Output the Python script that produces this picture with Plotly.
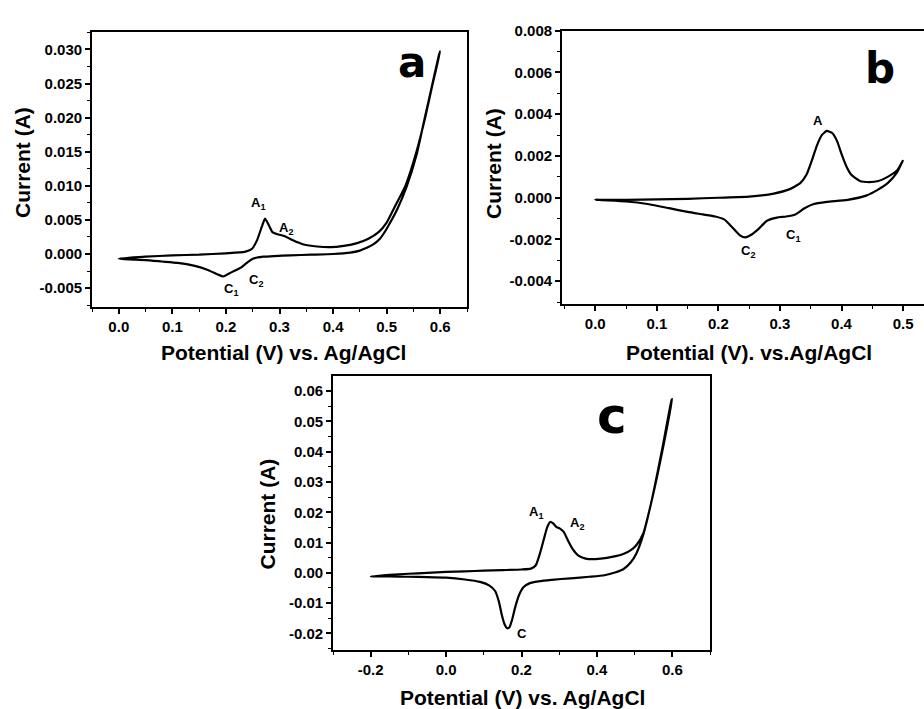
import plotly.graph_objects as go

# ---------------- Panel a data ----------------
a_fwd_x = [0.0, 0.05, 0.10, 0.15, 0.20, 0.235, 0.248, 0.258, 0.267, 0.273, 0.279, 0.287, 0.296,
           0.31, 0.325, 0.345, 0.37, 0.395, 0.42, 0.445, 0.465, 0.485, 0.50, 0.515, 0.535,
           0.555, 0.572, 0.586, 0.600]
a_fwd_y = [-0.0007, -0.0004, -0.0002, -0.0001, 0.0001, 0.0003, 0.0007, 0.0020, 0.0040, 0.0052,
           0.0044, 0.0032, 0.0029, 0.0026, 0.0020, 0.0014, 0.0011, 0.0010, 0.0012, 0.0016,
           0.0022, 0.0032, 0.0046, 0.0069, 0.0100, 0.0148, 0.0200, 0.0250, 0.0297]
a_rev_x = [0.598, 0.585, 0.571, 0.556, 0.537, 0.52, 0.508, 0.497, 0.487, 0.475, 0.463, 0.45,
           0.432, 0.40, 0.36, 0.32, 0.29, 0.27, 0.25, 0.239, 0.228, 0.215, 0.205, 0.195, 0.185,
           0.165, 0.14, 0.11, 0.08, 0.05, 0.02, 0.0]
a_rev_y = [0.0293, 0.0248, 0.0199, 0.0146, 0.0098, 0.0066, 0.0048, 0.0033, 0.0022, 0.0014,
           0.0009, 0.0005, 0.0002, 0.0000, -0.0001, -0.0002, -0.0003, -0.0004, -0.0007, -0.0013,
           -0.0020, -0.0025, -0.0029, -0.0033, -0.0030, -0.0023, -0.0017, -0.0013, -0.0011,
           -0.0009, -0.0008, -0.0007]
a_xticks = [0.0, 0.1, 0.2, 0.3, 0.4, 0.5, 0.6]
a_xtick_text = ["0.0", "0.1", "0.2", "0.3", "0.4", "0.5", "0.6"]
a_yticks = [-0.005, 0.0, 0.005, 0.010, 0.015, 0.020, 0.025, 0.030]
a_ytick_text = ["-0.005", "0.000", "0.005", "0.010", "0.015", "0.020", "0.025", "0.030"]

# ---------------- Panel b data ----------------
b_fwd_x = [0.0, 0.05, 0.10, 0.15, 0.20, 0.25, 0.29, 0.315, 0.333, 0.343, 0.352, 0.36, 0.368,
           0.376, 0.385, 0.393, 0.40, 0.408, 0.416, 0.43, 0.445, 0.46, 0.475, 0.49, 0.50]
b_fwd_y = [-0.0001, -0.0001, -0.00008, -0.00005, 0.0, 0.00005, 0.0002, 0.0004, 0.0007, 0.0011,
           0.0018, 0.0025, 0.0030, 0.0032, 0.0031, 0.0027, 0.0021, 0.0015, 0.0011, 0.0008,
           0.00075, 0.0008, 0.0010, 0.0013, 0.0018]
b_rev_x = [0.50, 0.49, 0.475, 0.46, 0.44, 0.41, 0.376, 0.355, 0.34, 0.325, 0.31, 0.295, 0.279,
           0.265, 0.252, 0.2435, 0.235, 0.222, 0.21, 0.195, 0.175, 0.15, 0.12, 0.085, 0.05, 0.0]
b_rev_y = [0.0018, 0.0012, 0.0007, 0.0004, 0.0001, -0.0001, -0.0002, -0.0003, -0.0005, -0.0008,
           -0.0009, -0.00095, -0.0011, -0.0015, -0.0018, -0.0019, -0.0018, -0.0014, -0.00105,
           -0.0009, -0.0008, -0.00068, -0.0005, -0.0003, -0.00018, -0.0001]
b_xticks = [0.0, 0.1, 0.2, 0.3, 0.4, 0.5]
b_xtick_text = ["0.0", "0.1", "0.2", "0.3", "0.4", "0.5"]
b_yticks = [-0.004, -0.002, 0.0, 0.002, 0.004, 0.006, 0.008]
b_ytick_text = ["-0.004", "-0.002", "0.000", "0.002", "0.004", "0.006", "0.008"]

# ---------------- Panel c data ----------------
c_fwd_x = [-0.2, -0.15, -0.1, -0.05, 0.0, 0.05, 0.1, 0.15, 0.2, 0.225, 0.238, 0.248, 0.258,
           0.268, 0.276, 0.284, 0.292, 0.302, 0.312, 0.322, 0.335, 0.35, 0.37, 0.39, 0.41,
           0.43, 0.45, 0.47, 0.49, 0.505, 0.523, 0.549, 0.576, 0.6]
c_fwd_y = [-0.0012, -0.0007, -0.0003, 0.0000, 0.0003, 0.0005, 0.0007, 0.0009, 0.0011, 0.0014,
           0.0025, 0.0060, 0.0105, 0.0150, 0.0168, 0.0163, 0.0152, 0.0146, 0.0135, 0.0110,
           0.0080, 0.0058, 0.0047, 0.0045, 0.0047, 0.0050, 0.0055, 0.0062, 0.0075, 0.0092,
           0.0130, 0.0258, 0.0417, 0.0574]
c_rev_x = [0.598, 0.574, 0.548, 0.523, 0.505, 0.49, 0.47, 0.45, 0.42, 0.38, 0.33, 0.28, 0.245,
           0.222, 0.205, 0.193, 0.183, 0.175, 0.168, 0.162, 0.155, 0.148, 0.14, 0.13, 0.115,
           0.09, 0.05, 0.0, -0.05, -0.1, -0.15, -0.2]
c_rev_y = [0.0570, 0.0414, 0.0254, 0.0126, 0.0065, 0.0035, 0.0012, 0.0002, -0.0008, -0.0013,
           -0.0018, -0.0023, -0.0028, -0.0034, -0.0048, -0.0075, -0.0115, -0.0155, -0.0180,
           -0.0183, -0.0170, -0.0140, -0.0095, -0.0060, -0.0042, -0.0030, -0.0022, -0.0016,
           -0.0014, -0.0013, -0.0012, -0.0012]
c_xticks = [-0.2, 0.0, 0.2, 0.4, 0.6]
c_xtick_text = ["-0.2", "0.0", "0.2", "0.4", "0.6"]
c_yticks = [-0.02, -0.01, 0.0, 0.01, 0.02, 0.03, 0.04, 0.05, 0.06]
c_ytick_text = ["-0.02", "-0.01", "0.00", "0.01", "0.02", "0.03", "0.04", "0.05", "0.06"]

# ---------------- layout helpers ----------------
W, H = 924, 709
def px(x):
    return x / W
def py(y):
    return 1 - y / H

FONT = "Liberation Sans, Arial, sans-serif"
tickfont = dict(family=FONT, size=15, color="black", weight="bold")

fig = go.Figure()
for fx, fy, rx, ry, xa, ya in [
    (a_fwd_x, a_fwd_y, a_rev_x, a_rev_y, "x", "y"),
    (b_fwd_x, b_fwd_y, b_rev_x, b_rev_y, "x2", "y2"),
    (c_fwd_x, c_fwd_y, c_rev_x, c_rev_y, "x3", "y3"),
]:
    fig.add_trace(go.Scatter(
        x=fx + rx, y=fy + ry, mode="lines", xaxis=xa, yaxis=ya,
        line=dict(color="black", width=2.2, shape="spline", smoothing=0.5),
        showlegend=False, hoverinfo="skip"))

def xax(dom, rng, tv, tt, minor_dtick, anchor, mirror=True):
    return dict(domain=dom, range=rng, tickvals=tv, ticktext=tt, anchor=anchor,
                showline=True, linecolor="black", linewidth=1.8, mirror=mirror,
                ticks="outside", ticklen=5, tickwidth=1.5, tickcolor="black",
                minor=dict(dtick=minor_dtick, tick0=0, ticks="outside", ticklen=3,
                           tickwidth=1.2, tickcolor="black"),
                showgrid=False, zeroline=False, tickfont=tickfont, fixedrange=True)

fig.update_layout(
    width=W, height=H, margin=dict(l=0, r=0, t=0, b=0),
    paper_bgcolor="white", plot_bgcolor="white",
    xaxis=xax([px(92), px(467)], [-0.05, 0.65], a_xticks, a_xtick_text, 0.05, "y"),
    yaxis=xax([py(302), py(23)], [-0.0078, 0.0326], a_yticks, a_ytick_text, 0.0025, "x"),
    xaxis2=xax([px(562), 1.0], [-0.054, 0.534], b_xticks, b_xtick_text, 0.05, "y2"),
    yaxis2=xax([py(299), py(22)], [-0.0051, 0.008], b_yticks, b_ytick_text, 0.001, "x2", mirror=False),
    xaxis3=xax([px(333), px(710)], [-0.3, 0.7], c_xticks, c_xtick_text, 0.1, "y3"),
    yaxis3=xax([py(649), py(372)], [-0.0254, 0.0649], c_yticks, c_ytick_text, 0.005, "x3"),
)

titlefont = dict(family=FONT, size=21, color="black", weight="bold")
peakfont = dict(family=FONT, size=13, color="black", weight="bold")
letterfont_ab = dict(family="DejaVu Sans, sans-serif", size=42, color="black", weight="bold")
letterfont_c = dict(family="DejaVu Sans, sans-serif", size=50, color="black", weight="bold")

notes = [
    # axis titles
    ("Potential (V) vs. Ag/AgCl", 283, 348, 0, titlefont),
    ("Potential (V). vs.Ag/AgCl", 749, 348, 0, titlefont),
    ("Potential (V) vs. Ag/AgCl", 522, 697, 0, titlefont),
    ("Current (A)", 22, 156, -90, titlefont),
    ("Current (A)", 493, 157, -90, titlefont),
    ("Current (A)", 268, 512, -90, titlefont),
    # panel letters
    ("a", 412, 54, 0, letterfont_ab),
    ("b", 880, 60, 0, letterfont_ab),
    ("c", 612, 412, 0, letterfont_c),
    # peak labels
    ("A<sub>1</sub>", 258, 197, 0, peakfont),
    ("A<sub>2</sub>", 286, 222, 0, peakfont),
    ("C<sub>1</sub>", 231, 284, 0, peakfont),
    ("C<sub>2</sub>", 256, 275, 0, peakfont),
    ("A", 818, 113, 0, peakfont),
    ("C<sub>2</sub>", 748, 246, 0, peakfont),
    ("C<sub>1</sub>", 793, 229, 0, peakfont),
    ("A<sub>1</sub>", 536, 510, 0, peakfont),
    ("A<sub>2</sub>", 577, 521, 0, peakfont),
    ("C", 522, 633, 0, peakfont),
]
for text, x, y, ang, f in notes:
    fig.add_annotation(text=text, x=px(x), y=py(y), xref="paper", yref="paper",
                       xanchor="center", yanchor="middle", showarrow=False,
                       textangle=ang, font=f)

fig.write_html("out.html", config={"displayModeBar": False},
               post_script="document.body.style.margin='0';document.body.style.overflow='hidden';")
